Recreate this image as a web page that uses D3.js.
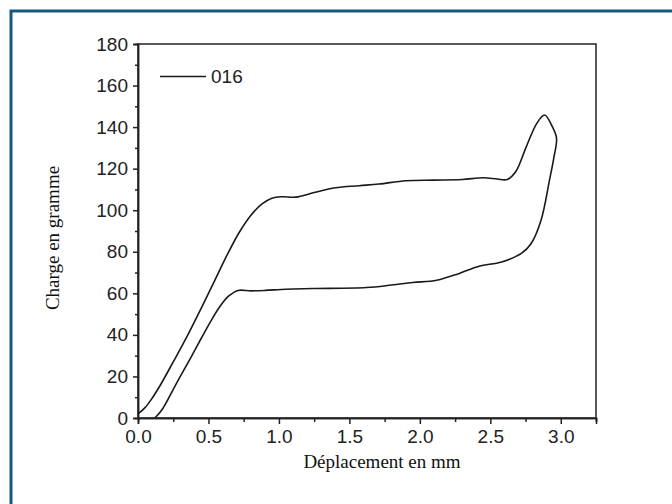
<!DOCTYPE html>
<html lang="fr">
<head>
<meta charset="UTF-8">
<title>Charge en gramme</title>
<style>
  html, body { margin: 0; padding: 0; background: #fff; }
  svg { display: block; }
  .tick text { font-family: "Liberation Sans", Arial, sans-serif; font-size: 19px; fill: #222; }
  .title { font-family: "Liberation Serif", "Times New Roman", serif; font-size: 19px; fill: #111; }
</style>
</head>
<body>
<div id="chart"></div>
<script src="https://cdn.jsdelivr.net/npm/d3@7"></script>
<script>
// boucle charge / décharge, éprouvette 016
const seriesName = "016";
const loadX = [0.00, 0.05, 0.10, 0.16, 0.25, 0.35, 0.45, 0.55, 0.64, 0.72, 0.80, 0.88, 0.95, 1.02, 1.12,
  1.25, 1.40, 1.57, 1.71, 1.90, 2.10, 2.30, 2.45, 2.55, 2.62, 2.68, 2.755, 2.83, 2.885, 2.94, 2.97];
const loadY = [2, 5, 9.5, 16, 27, 39.5, 53, 67, 79.5, 89.5, 97.5, 103, 105.8, 106.5, 106.3,
  108.5, 110.8, 111.8, 112.6, 114.2, 114.5, 114.8, 115.6, 115, 114.8, 118.5, 130.5, 141.8, 145.8, 140.2, 134.6];
const unloadX = [2.95, 2.92, 2.86, 2.79, 2.72, 2.58, 2.42, 2.28, 2.12, 1.95, 1.80, 1.62, 1.24, 1.05, 0.90,
  0.80, 0.71, 0.64, 0.58, 0.52, 0.45, 0.37, 0.30, 0.24, 0.17, 0.12];
const unloadY = [125, 114.5, 95.2, 84, 79.2, 75.1, 73, 69.6, 66.3, 65.2, 64, 62.8, 62.3, 62, 61.4,
  61.2, 61.4, 58.5, 53.5, 47, 38.5, 28.5, 20, 12.5, 4, 0];
const xTicks = [0, 0.5, 1.0, 1.5, 2.0, 2.5, 3.0];
const yTicks = [0, 20, 40, 60, 80, 100, 120, 140, 160, 180];

const W = 672, H = 504;
const m = { left: 138, top: 44, right: 76, bottom: 86 };

const svg = d3.select("#chart").append("svg")
  .attr("width", W).attr("height", H);

// cadre bleu
svg.append("rect")
  .attr("x", 11).attr("y", 11)
  .attr("width", 720).attr("height", 600)
  .attr("fill", "none").attr("stroke", "#145a80").attr("stroke-width", 3);

const x = d3.scaleLinear().domain([0, 3.25]).range([m.left, W - m.right]);
const y = d3.scaleLinear().domain([0, 180]).range([H - m.bottom, m.top]);

// boite
svg.append("rect")
  .attr("x", m.left).attr("y", m.top)
  .attr("width", W - m.right - m.left).attr("height", H - m.bottom - m.top)
  .attr("fill", "none").attr("stroke", "#222").attr("stroke-width", 1.5);

const xAxis = svg.append("g")
  .attr("transform", "translate(0," + (H - m.bottom) + ")")
  .call(d3.axisBottom(x).tickValues(xTicks).tickFormat(d3.format(".1f")).tickSize(6).tickPadding(6));
const xMinor = svg.append("g")
  .attr("transform", "translate(0," + (H - m.bottom) + ")")
  .call(d3.axisBottom(x).tickValues(xTicks.map(d => d + 0.25)).tickFormat("").tickSize(4));

const yAxis = svg.append("g")
  .attr("transform", "translate(" + m.left + ",0)")
  .call(d3.axisLeft(y).tickValues(yTicks).tickSize(5).tickPadding(5));
const yMinor = svg.append("g")
  .attr("transform", "translate(" + m.left + ",0)")
  .call(d3.axisLeft(y).tickValues(yTicks.slice(0, -1).map(d => d + 10)).tickFormat("").tickSize(3));

[xAxis, xMinor, yAxis, yMinor].forEach(g => {
  g.select(".domain").attr("stroke", "#222").attr("stroke-width", 1.5);
  g.selectAll(".tick line").attr("stroke", "#222").attr("stroke-width", 1.5);
});

// courbe
const pts = loadX.map((d, i) => [d, loadY[i]])
  .concat(unloadX.map((d, i) => [d, unloadY[i]]));
const line = d3.line()
  .x(d => x(d[0])).y(d => y(d[1]))
  .curve(d3.curveCatmullRom.alpha(0.5));
svg.append("path")
  .attr("d", line(pts))
  .attr("fill", "none").attr("stroke", "#1a1a1a").attr("stroke-width", 1.6);

// légende
svg.append("line")
  .attr("x1", 160).attr("x2", 206).attr("y1", 76.5).attr("y2", 76.5)
  .attr("stroke", "#1a1a1a").attr("stroke-width", 1.6);
svg.append("text")
  .attr("x", 211).attr("y", 83)
  .style("font-family", "'Liberation Sans', Arial, sans-serif")
  .style("font-size", "19px").style("fill", "#222")
  .text(seriesName);

// titres
svg.append("text").attr("class", "title")
  .attr("x", 382).attr("y", 468)
  .attr("text-anchor", "middle")
  .text("Déplacement en mm");
svg.append("text").attr("class", "title")
  .attr("transform", "translate(59,238) rotate(-90)")
  .attr("text-anchor", "middle")
  .text("Charge en gramme");
</script>
</body>
</html>
